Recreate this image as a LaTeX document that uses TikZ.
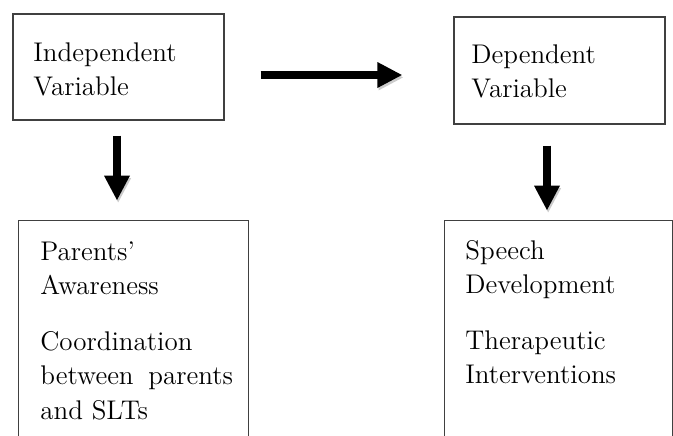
\documentclass[tikz,border=0pt]{standalone}
\usetikzlibrary{arrows.meta}
\tikzset{
  frame/.style={draw=black!75, line width=0.6pt, inner sep=0pt},
  openframe/.style={inner sep=0pt},
  boxtext/.style={anchor=north west, inner sep=0pt, align=left,
    font=\fontsize{13.5}{17.25}\selectfont},
  bigarrow/.style={line width=3.8pt, -{Triangle[length=12.5pt,width=12pt]},
    preaction={draw=black!20, transform canvas={shift={(0.6pt,-1.2pt)}}}}
}
\begin{document}
\begin{tikzpicture}[x=0.5pt,y=-0.5pt]
        \useasboundingbox (0,0) rectangle (673,435);
        \clip (0,0) rectangle (673,435);
        % variable boxes
        \node[frame, minimum width=105.5pt, minimum height=53pt] (iv) at (118.5,67) {};
        \node[frame, minimum width=105.5pt, minimum height=53.5pt] (dv) at (559.5,70.5) {};
        \node[boxtext] (ivtext) at (33,42) {Independent\\Variable};
        \node[boxtext] (dvtext) at (471,44) {Dependent\\Variable};
        % factor boxes, open at the bottom
        \node[openframe, minimum width=114.5pt, minimum height=110pt] (ivfac) at (133.5,331) {};
        \node[openframe, minimum width=113.5pt, minimum height=110pt] (dvfac) at (558.5,331) {};
        \draw[frame] (ivfac.south west) -- (ivfac.north west) -- (ivfac.north east) -- (ivfac.south east);
        \draw[frame] (dvfac.south west) -- (dvfac.north west) -- (dvfac.north east) -- (dvfac.south east);
        \node[boxtext] (ivfactext) at (40,241) {Parents’\\Awareness\\[10.5pt]Coordination\\between\hspace{3pt} parents\\and SLTs};
        \node[boxtext] (dvfactext) at (465,240) {Speech\\Development\\[10.5pt]Therapeutic\\Interventions};
        % arrows
        \draw[bigarrow] ([shift={(36,8)}]iv.east) -- ([shift={(-51,4.5)}]dv.west);
        \draw[bigarrow] ([shift={(-1.5,15)}]iv.south) -- ([shift={(-16.5,-20)}]ivfac.north);
        \draw[bigarrow] ([shift={(-12.5,21)}]dv.south) -- ([shift={(-11.5,-10)}]dvfac.north);
\end{tikzpicture}
\end{document}
